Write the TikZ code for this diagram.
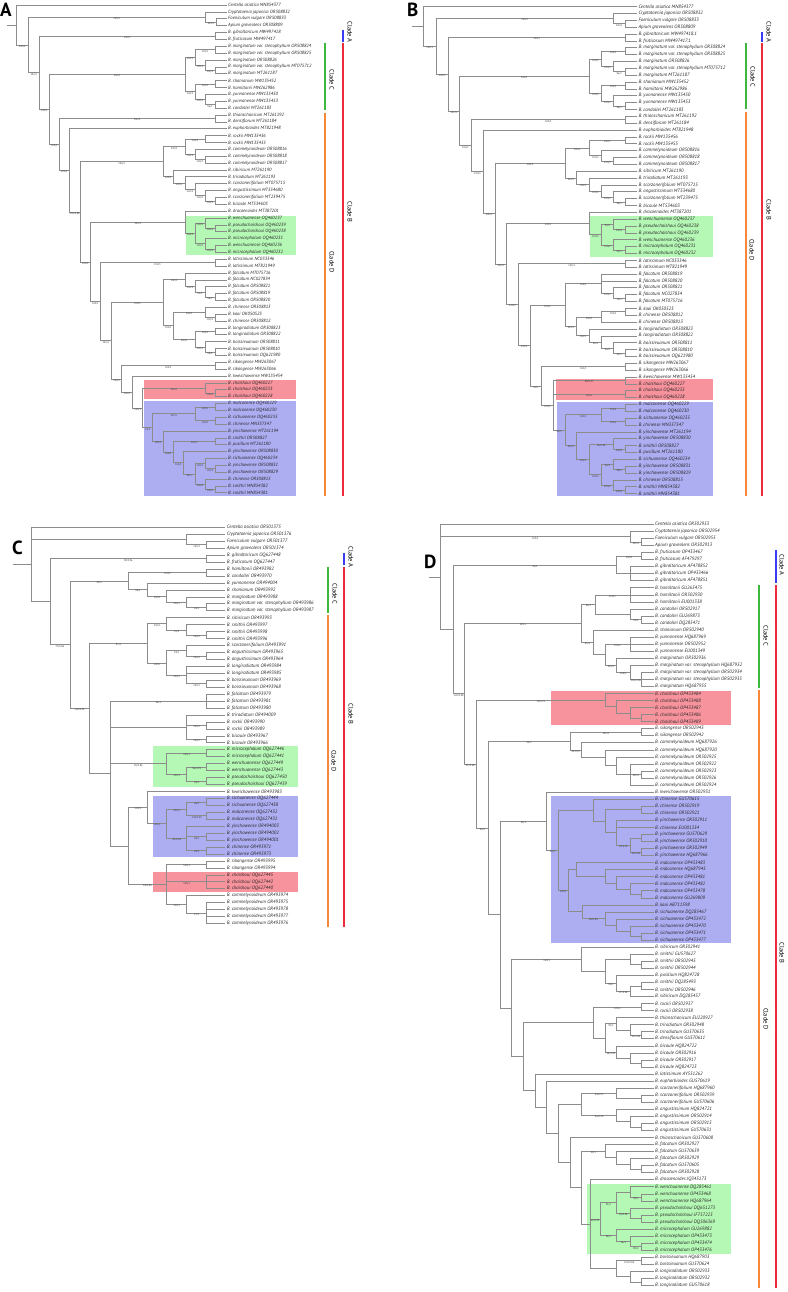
\documentclass[tikz,border=0pt]{standalone}
\usepackage{fontspec}
\setmainfont{PT Sans}
\usetikzlibrary{calc}

\definecolor{boxgreen}{HTML}{B5F7B5}
\definecolor{boxred}{HTML}{F7939D}
\definecolor{boxblue}{HTML}{ADADF2}
\definecolor{cladeblue}{HTML}{3B3BF5}
\definecolor{cladegreen}{HTML}{3DB83D}
\definecolor{cladeorange}{HTML}{F7883A}
\definecolor{cladered}{HTML}{EE2B3B}

\tikzset{
  br/.style={draw=black!45, line width=0.55pt},
  leaf/.style={anchor=west, inner xsep=1.5pt, inner ysep=0pt, text=black!85,
    font=\fontsize{4.8}{5}\selectfont\itshape},
  leafA/.style={leaf, font=\fontsize{4.6}{5}\selectfont\itshape},
  sup/.style={pos=0.75, below=0.1pt, inner sep=0.2pt, text=black!80,
    font=\fontsize{2.6}{3}\selectfont},
  bar/.style={line width=1.6pt},
  cladelab/.style={rotate=-90, inner sep=0pt, font=\fontsize{6.5}{7}\selectfont},
  panel/.style={anchor=north west, inner sep=0pt, font=\fontsize{19}{19}\selectfont\bfseries}
}

\newcommand\hf{100/1}
% leaf: name, x, y, text
\newcommand\tip[4]{%
  \node[#1] (#2) at (#3) {#4};}
% clade node: name, x, children (child/support); y is the middle of first and last child
\newcommand\nd[3]{%
  \foreach \cn/\lb [count=\kk] in {#3}{\ifnum\kk=1 \xdef\ndfirst{\cn}\fi\xdef\ndlast{\cn}}%
  \pgfmathsetmacro\ndy{0.5*(\csname ny@\ndfirst\endcsname+\csname ny@\ndlast\endcsname)}%
  \expandafter\xdef\csname ny@#1\endcsname{\ndy}%
  \coordinate (#1) at (#2,\ndy);%
  \foreach \cn/\lb in {#3}{\draw[br] (#1) |- node[sup]{\lb} (\cn);}%
}
% row of leaves: prefix, style, x, first y, step, list
\newcommand\tips[6]{%
  \foreach \t [count=\i] in {#6}{%
    \pgfmathsetmacro\yy{#4+(\i-1)*#5}%
    \node[#2] (#1\i) at (#3,\yy) {\t};%
    \expandafter\xdef\csname ny@#1\i\endcsname{\yy}}}

\begin{document}
\begin{tikzpicture}[x=1pt,y=-1pt]
\useasboundingbox (0,0) rectangle (787,1292);

% highlighted groups
\fill[boxgreen] (186,216) rectangle (296,255);
\fill[boxred] (144,380) rectangle (296,399.3);
\fill[boxblue] (144,400.7) rectangle (296,496);
\fill[boxgreen] (590,216) rectangle (713,257);
\fill[boxred] (556,379) rectangle (713,400);
\fill[boxblue] (557,401.7) rectangle (713,496);
\fill[boxgreen] (153,746) rectangle (298,787);
\fill[boxblue] (153,795.5) rectangle (298,857);
\fill[boxred] (153,872) rectangle (298,892);
\fill[boxred] (551,690.7) rectangle (731,725.3);
\fill[boxblue] (551,795.7) rectangle (731,943.3);
\fill[boxgreen] (587,1184) rectangle (731,1254);

\node[panel] (pA) at (0,3) {A};
\node[panel] (pB) at (407,3) {B};
\node[panel] (pC) at (12,541) {C};
\node[panel] (pD) at (424,555) {D};

% ---------- A ----------
\tips{a}{leafA}{226.5}{5}{6.87}{Centella asiatica MN854377,Cryptotaenia japonica OR508832,
  Foeniculum vulgare OR508833,Apium graveolens OR508809,B. gibraltaricum MW497418,
  B. fruticosum MW497417,B. marginatum var. stenophyllum OR508824,
  B. marginatum var. stenophyllum OR508825,B. marginatum OR508826,
  B. marginatum var. stenophyllum MT075712,B. marginatum MT261187,B. shanianum MW135452,
  B. hamiltonii MW262986,B. yunnanense MW135450,B. yunnanense MW135453,
  B. candollei MT261183,B. thianschanicum MT261192,B. densiflorum MT261184,
  B. euphorbioides MT821948,B. rockii MW135456,B. rockii MW135455,
  B. commelynoideum OR508816,B. commelynoideum OR508818,B. commelynoideum OR508817,
  B. sibiricum MT261190,B. triradiatum MT261193,B. scorzonerifolium MT075715,
  B. angustissimum MT534680,B. scorzonerifolium MT239475,B. bicaule MT534603,
  B. dracaenoides MT387201,B. wenchuanense OQ460237,B. pseudochaishoui OQ460239,
  B. pseudochaishoui OQ460238,B. microcephalum OQ460231,B. wenchuanense OQ460236,
  B. microcephalum OQ460232,B. latissimum NC033346,B. latissimum MT821949,
  B. falcatum MT075716,B. falcatum NC027834,B. falcatum OR508821,B. falcatum OR508819,
  B. falcatum OR508820,B. chinense OR508813,B. kaoi OK050523,B. chinense OR508812,
  B. longiradiatum OR508823,B. longiradiatum OR508822,B. boissieuanum OR508811,
  B. boissieuanum OR508810,B. boissieuanum OQ621980,B. sikangense MW263067,
  B. sikangense MW263066,B. kweichowense MW135454,B. chaishoui OQ460227,
  B. chaishoui OQ460233,B. chaishoui OQ460228,B. malconense OQ460229,
  B. malconense OQ460230,B. sichuanense OQ460235,B. chinense MN337347,
  B. yinchowense MT261194,B. smithii OR508827,B. pusillum MT261180,
  B. yinchowense OR508830,B. sichuanense OQ460234,B. yinchowense OR508831,
  B. yinchowense OR508829,B. chinense OR508815,B. smithii MN854382,B. smithii MN854381}

\nd{aFA}{216.7}{a3/,a4/}
\nd{aCr}{205}{a2/,aFA/\hf}
\nd{aGF}{215}{a5/,a6/}
\nd{aM1}{215}{a7/,a8/}
\nd{aM3}{215}{a10/,a11/}
\nd{aM2}{205}{a9/,aM3/\hf}
\nd{aMg}{195}{aM1/\hf,aM2/\hf}
\nd{aSH}{215}{a12/,a13/}
\nd{aY2}{215}{a15/,a16/}
\nd{aYu}{205}{a14/,aY2/{96/1}}
\nd{aSY}{195}{aSH/\hf,aYu/\hf}
\nd{aCC}{185}{aMg/\hf,aSY/\hf}
\nd{aTD}{215}{a17/,a18/}
\nd{aRk}{205}{a20/,a21/}
\nd{aCm2}{205}{a23/,a24/}
\nd{aCm}{195}{a22/,aCm2/\hf}
\nd{aRC}{185}{aRk/\hf,aCm/\hf}
\nd{aSb4}{215}{a29/,a30/}
\nd{aSb3}{205}{a28/,aSb4/\hf}
\nd{aSb2}{195}{a27/,aSb3/\hf}
\nd{aTr}{185}{a26/,aSb2/\hf}
\nd{aSb}{173.3}{a25/,aTr/\hf}
\nd{aR}{163.3}{aRC/\hf,aSb/\hf}
\nd{aG1b}{215}{a33/,a34/}
\nd{aG1}{205}{a32/,aG1b/\hf}
\nd{aG2b}{215}{a36/,a37/}
\nd{aG2}{205}{a35/,aG2b/\hf}
\nd{aG}{195}{aG1/\hf,aG2/\hf}
\nd{aDG}{185}{a31/,aG/\hf}
\nd{aLa}{215}{a38/,a39/}
\nd{aF4}{215}{a43/,a44/}
\nd{aF3}{205}{a42/,aF4/{96/1}}
\nd{aF2}{195}{a41/,aF3/{92/1}}
\nd{aF}{185}{a40/,aF2/\hf}
\nd{aCh2}{215}{a46/,a47/}
\nd{aCh}{205}{a45/,aCh2/\hf}
\nd{aLo}{215}{a48/,a49/}
\nd{aBo2}{215}{a51/,a52/}
\nd{aBo}{205}{a50/,aBo2/{96/1}}
\nd{aLgB}{195}{aLo/\hf,aBo/\hf}
\nd{aCL}{173.3}{aCh/\hf,aLgB/\hf}
\nd{aW}{163.3}{aF/\hf,aCL/\hf}
\nd{aSk}{215}{a53/,a54/}
\nd{aCs2}{215}{a57/,a58/}
\nd{aCs}{205}{a56/,aCs2/\hf}
\nd{aB1}{215}{a59/,a60/}
\nd{aB2}{215}{a61/,a62/}
\nd{aB12}{195}{aB1/\hf,aB2/\hf}
\nd{aP1}{215}{a68/,a69/}
\nd{aP2}{205}{a67/,aP1/\hf}
\nd{aP3}{215}{a71/,a72/}
\nd{aP4}{205}{a70/,aP3/\hf}
\nd{aP5}{195}{aP2/\hf,aP4/\hf}
\nd{aP6}{183.3}{a66/,aP5/{99/1}}
\nd{aSP}{215}{a64/,a65/}
\nd{aP7}{173.3}{aSP/\hf,aP6/\hf}
\nd{aP8}{163.3}{a63/,aP7/\hf}
\nd{aBl}{152.7}{aB12/\hf,aP8/\hf}
\nd{aZ}{142.7}{aCs/\hf,aBl/{91/1}}
\nd{aYk}{132.7}{a55/,aZ/\hf}
\nd{aX}{121.7}{aSk/\hf,aYk/\hf}
\nd{aV}{111.7}{aW/\hf,aX/\hf}
\nd{aU}{100}{aLa/\hf,aV/\hf}
\nd{aT}{90.7}{aDG/\hf,aU/\hf}
\nd{aQ}{80}{aR/\hf,aT/\hf}
\nd{aP}{69.3}{a19/,aQ/{100/0.86}}
\nd{aN4}{59.3}{aTD/\hf,aP/\hf}
\nd{aN3}{49.3}{aCC/\hf,aN4/\hf}
\nd{aN2}{39.3}{aGF/\hf,aN3/\hf}
\nd{aN1}{28.3}{aCr/\hf,aN2/\hf}
\nd{aRt}{16}{a1/,aN1/\hf}
\coordinate (aStub) at ($(aRt)+(-9,0)$);
\draw[br] (aStub) -- (aRt);

\draw[bar,cladeblue] (343,30) -- (343,42);
\draw[bar,cladegreen] (325,43) -- (325,110.5);
\draw[bar,cladeorange] (325,113) -- (325,496);
\draw[bar,cladered] (343,43) -- (343,496);
\node[cladelab] (aLabA) at (350,32) {Clade A};
\node[cladelab] (aLabC) at (332,80) {Clade C};
\node[cladelab] (aLabD) at (332,262) {Clade D};
\node[cladelab] (aLabB) at (350,212) {Clade B};

% ---------- B ----------
\tips{b}{leaf}{636.8}{6.5}{6.86}{Centella asiatica MN854377,Cryptotaenia japonica OR508832,
  Foeniculum vulgare OR508833,Apium graveolens OR508809,B. gibraltaricum MW497418.1,
  B. fruticosum MW497417.1,B. marginatum var. stenophyllum OR508824,
  B. marginatum var. stenophyllum OR508825,B. marginatum OR508826,
  B. marginatum var. stenophyllum MT075712,B. marginatum MT261187,B. shanianum MW135452,
  B. hamiltonii MW262986,B. yunnanense MW135450,B. yunnanense MW135453,
  B. candollei MT261183,B. thianschanicum MT261192,B. densiflorum MT261184,
  B. euphorbioides MT821948,B. rockii MW135456,B. rockii MW135455,
  B. commelynoideum OR508816,B. commelynoideum OR508818,B. commelynoideum OR508817,
  B. sibiricum MT261190,B. triradiatum MT261193,B. scorzonerifolium MT075715,
  B. angustissimum MT534680,B. scorzonerifolium MT239475,B. bicaule MT534603,
  B. dracaenoides MT387201,B. wenchuanense OQ460237,B. pseudochaishoui OQ460238,
  B. pseudochaishoui OQ460239,B. wenchuanense OQ460236,B. microcephalum OQ460231,
  B. microcephalum OQ460232,B. latissimum NC033346,B. latissimum MT821949,
  B. falcatum OR508819,B. falcatum OR508820,B. falcatum OR508821,B. falcatum NC027834,
  B. falcatum MT075716,B. kaoi OK050523,B. chinense OR508812,B. chinense OR508813,
  B. longiradiatum OR508823,B. longiradiatum OR508822,B. boissieuanum OR508811,
  B. boissieuanum OR508810,B. boissieuanum OQ621980,B. sikangense MW263067,
  B. sikangense MW263066,B. kweichowense MW135454,B. chaishoui OQ460227,
  B. chaishoui OQ460233,B. chaishoui OQ460228,B. malconense OQ460229,
  B. malconense OQ460230,B. sichuanense OQ460235,B. chinense MN337347,
  B. yinchowense MT261194,B. yinchowense OR508830,B. smithii OR508827,
  B. pusillum MT261180,B. sichuanense OQ460234,B. yinchowense OR508831,
  B. yinchowense OR508829,B. chinense OR508815,B. smithii MN854382,B. smithii MN854381}

\nd{bFA}{625}{b3/,b4/}
\nd{bCr}{613.3}{b2/,bFA/\hf}
\nd{bGF}{625}{b5/,b6/}
\nd{bM1}{625}{b7/,b8/}
\nd{bM3}{625}{b10/,b11/}
\nd{bM2}{613.3}{b9/,bM3/{96/1}}
\nd{bMg}{601.7}{bM1/\hf,bM2/\hf}
\nd{bSH}{625}{b12/,b13/}
\nd{bY2}{625}{b15/,b16/}
\nd{bYu}{613.3}{b14/,bY2/{96/1}}
\nd{bSY}{601.7}{bSH/\hf,bYu/\hf}
\nd{bCC}{589.3}{bMg/\hf,bSY/\hf}
\nd{bTD}{625}{b17/,b18/}
\nd{bRk}{625}{b20/,b21/}
\nd{bCm2}{613.3}{b23/,b24/}
\nd{bCm}{601.7}{b22/,bCm2/\hf}
\nd{bRC}{589.3}{bRk/\hf,bCm/\hf}
\nd{bSb4}{625}{b29/,b30/}
\nd{bSb3}{613.3}{b28/,bSb4/{96/1}}
\nd{bSb2}{601.7}{b27/,bSb3/\hf}
\nd{bTr}{589.3}{b26/,bSb2/\hf}
\nd{bSb}{576.7}{b25/,bTr/\hf}
\nd{bR}{565}{bRC/\hf,bSb/\hf}
\nd{bG1b}{625}{b33/,b34/}
\nd{bG1}{613.3}{b32/,bG1b/\hf}
\nd{bG2b}{625}{b36/,b37/}
\nd{bG2}{613.3}{b35/,bG2b/{92/1}}
\nd{bG}{601.7}{bG1/{99/1},bG2/\hf}
\nd{bDG}{589.3}{b31/,bG/\hf}
\nd{bLa}{625}{b38/,b39/}
\nd{bF3}{625}{b43/,b44/}
\nd{bF2}{613.3}{b42/,bF3/{74/1}}
\nd{bF}{601.7}{b40/,b41/,bF2/\hf}
\nd{bCh2}{625}{b45/,b46/}
\nd{bCh}{601.7}{bCh2/\hf,b47/}
\nd{bBo2}{625}{b51/,b52/}
\nd{bBo}{613.3}{b50/,bBo2/{92/1}}
\nd{bLo2}{601.7}{b49/,bBo/{96/1}}
\nd{bLgB}{589.3}{b48/,bLo2/{96/1}}
\nd{bCL}{576.7}{bCh/\hf,bLgB/\hf}
\nd{bW}{565}{bF/\hf,bCL/\hf}
\nd{bSk}{625}{b53/,b54/}
\nd{bK}{625}{b55/,b56/}
\nd{bC2}{625}{b57/,b58/}
\nd{bBl1}{625}{b59/,b60/}
\nd{bBl2}{625}{b61/,b62/}
\nd{bBl12}{601.7}{bBl1/\hf,bBl2/\hf}
\nd{bSP}{625}{b65/,b66/}
\nd{bYs}{613.3}{b64/,bSP/\hf}
\nd{bQ1}{625}{b68/,b69/}
\nd{bQ2}{613.3}{b67/,bQ1/{98/1}}
\nd{bQ3}{625}{b71/,b72/}
\nd{bQ4}{613.3}{b70/,bQ3/\hf}
\nd{bQ5}{601.7}{bQ2/{98/1},bQ4/\hf}
\nd{bQ6}{589.3}{bYs/{96/0.98},bQ5/\hf}
\nd{bQ7}{576.7}{b63/,bQ6/\hf}
\nd{bBl}{565}{bBl12/\hf,bQ7/\hf}
\nd{bN11}{553.3}{bK/{89/0.97},bC2/\hf,bBl/{99/1}}
\nd{bN10}{541.7}{bSk/\hf,bN11/\hf}
\nd{bN9}{530}{bW/\hf,bN10/{99/1}}
\nd{bN8}{518.3}{bLa/\hf,bN9/\hf}
\nd{bN7}{506.7}{bDG/\hf,bN8/\hf}
\nd{bN6}{495}{bR/\hf,bN7/\hf}
\nd{bN5}{483.3}{b19/,bN6/\hf}
\nd{bN4}{471.7}{bTD/\hf,bN5/\hf}
\nd{bN3}{459.3}{bCC/\hf,bN4/\hf}
\nd{bN2}{448.3}{bGF/\hf,bN3/\hf}
\nd{bN1}{436}{bCr/\hf,bN2/\hf}
\nd{bRt}{423.3}{b1/,bN1/\hf}
\coordinate (bStub) at ($(bRt)+(-11,0)$);
\draw[br] (bStub) -- (bRt);

\draw[bar,cladeblue] (762,32) -- (762,42);
\draw[bar,cladegreen] (746,43) -- (746,109);
\draw[bar,cladeorange] (746,112) -- (746,496);
\draw[bar,cladered] (762,43) -- (762,496);
\node[cladelab] (bLabA) at (769,32) {Clade A};
\node[cladelab] (bLabC) at (753,77) {Clade C};
\node[cladelab] (bLabD) at (752,250) {Clade D};
\node[cladelab] (bLabB) at (769,210) {Clade B};

% ---------- C ----------
\tips{c}{leaf}{225.2}{527.3}{6.95}{Centella asiatica OR501375,Cryptotaenia japonica OR501376,
  Foeniculum vulgare OR501377,Apium graveolens OR501374,B. gibraltaricum OQ627448,
  B. fruticosum OQ627447,B. hamiltonii OR493982,B. candollei OR493970,
  B. yunnanense OR494004,B. shanianum OR493992,B. marginatum OR493988,
  B. marginatum var. stenophyllum OR493986,B. marginatum var. stenophyllum OR493987,
  B. sibiricum OR493993,B. smithii OR493997,B. smithii OR493998,B. smithii OR493996,
  B. scorzonerifolium OR493991,B. angustissimum OR493965,B. angustissimum OR493964,
  B. longiradiatum OR493984,B. longiradiatum OR493985,B. boissieuanum OR493969,
  B. boissieuanum OR493968,B. falcatum OR493979,B. falcatum OR493981,
  B. falcatum OR493980,B. triradiatum OR494009,B. rockii OR493990,B. rockii OR493989,
  B. bicaule OR493967,B. bicaule OR493966,B. microcephalum OQ627446,
  B. microcephalum OQ627441,B. wenchuanense OQ627449,B. wenchuanense OQ627443,
  B. pseudochaishoui OQ627450,B. pseudochaishoui OQ627439,B. kweichowense OR493983,
  B. sichuanense OQ627444,B. sichuanense OQ627438,B. malconense OQ627432,
  B. malconense OQ627431,B. yinchowense OR494003,B. yinchowense OR494002,
  B. yinchowense OR494001,B. chinense OR493971,B. chinense OR493973,
  B. sikangense OR493995,B. sikangense OR493994,B. chaishoui OQ627445,
  B. chaishoui OQ627442,B. chaishoui OQ627440,B. commelynoideum OR493974,
  B. commelynoideum OR493975,B. commelynoideum OR493978,B. commelynoideum OR493977,
  B. commelynoideum OR493976}

\nd{cFA}{206.7}{c3/,c4/}
\nd{cCr}{186.7}{c2/,cFA/\hf}
\nd{cGF}{206.7}{c5/,c6/}
\nd{cHC}{206.7}{c7/,c8/}
\nd{cMv}{206.7}{c12/,c13/}
\nd{cM}{186.7}{c11/,cMv/{96/1}}
\nd{cSh}{166.7}{c10/,cM/\hf}
\nd{cYS}{147.7}{c9/,cSh/\hf}
\nd{cCC}{128.3}{cHC/\hf,cYS/{96/1}}
\nd{cSm2}{206.7}{c16/,c17/}
\nd{cSm}{186.7}{c15/,cSm2/\hf}
\nd{cS1}{166.7}{c14/,cSm/{95/1}}
\nd{cAn}{206.7}{c19/,c20/}
\nd{cSA}{186.7}{c18/,cAn/\hf}
\nd{cBo}{206.7}{c23/,c24/}
\nd{cLgB}{186.7}{c21/,c22/,cBo/\hf}
\nd{cS2}{166.7}{cSA/{93/1},cLgB/\hf}
\nd{cN5}{147.7}{cS1/\hf,cS2/\hf}
\nd{cFa}{206.7}{c25/,c26/,c27/}
\nd{cRk}{206.7}{c29/,c30/}
\nd{cBc}{206.7}{c31/,c32/}
\nd{cTRB}{186.7}{c28/,cRk/\hf,cBc/\hf}
\nd{cMi}{206.7}{c33/,c34/}
\nd{cWe}{206.7}{c35/,c36/}
\nd{cPs}{206.7}{c37/,c38/}
\nd{cWP}{186.7}{cWe/{96/0.99},cPs/{96/1}}
\nd{cG}{166.7}{cMi/\hf,cWP/\hf}
\nd{cSc}{206.7}{c40/,c41/}
\nd{cMa}{206.7}{c42/,c43/}
\nd{cSM}{186.7}{cSc/{96/1},cMa/{100/0.99}}
\nd{cYp}{206.7}{c45/,c46/}
\nd{cCp}{206.7}{c47/,c48/}
\nd{cYC}{186.7}{c44/,cYp/{98/1},cCp/{99/1}}
\nd{cBl}{166.7}{cSM/\hf,cYC/{94/0.98}}
\nd{cKB}{147.7}{c39/,cBl/\hf}
\nd{cSk}{206.7}{c49/,c50/}
\nd{cCh}{206.7}{c51/,c52/,c53/}
\nd{cCo2}{206.7}{c55/,c56/,c57/,c58/}
\nd{cCo}{186.7}{c54/,cCo2/{97/1}}
\nd{cSCC}{166.7}{cSk/\hf,cCh/\hf,cCo/\hf}
\nd{cN7}{128.3}{cKB/\hf,cSCC/{94/0.96}}
\nd{cN6}{110}{cFa/{96/1},cTRB/,cG/{93/0.86},cN7/}
\nd{cN4}{89.3}{cN5/{91/1},cN6/}
\nd{cN3}{70}{cCC/{99/1},cN4/{100/0.99}}
\nd{cN2}{50}{cGF/{98/0.96},cN3/{79/0.86}}
\nd{cRt}{31.7}{c1/,cCr/,cN2/}
\coordinate (cStub) at ($(cRt)+(-19,0)$);
\draw[br] (cStub) -- (cRt);

\draw[bar,cladeblue] (344,553) -- (344,565);
\draw[bar,cladegreen] (328,567) -- (328,613);
\draw[bar,cladeorange] (328,615) -- (328,927);
\draw[bar,cladered] (344,567) -- (344,927);
\node[cladelab] (cLabA) at (351,557) {Clade A};
\node[cladelab] (cLabC) at (335,594) {Clade C};
\node[cladelab] (cLabD) at (334,761) {Clade D};
\node[cladelab] (cLabB) at (351,714) {Clade B};

% ---------- D ----------
\tips{d}{leaf}{653.5}{524.3}{7.047}{Centella asiatica OR502953,Cryptotaenia japonica OR502954,
  Foeniculum vulgare OR502955,Apium graveolens OR502913,B. fruticosum OP433467,
  B. fruticosum AF479297,B. gibraltaricum AF478852,B. gibraltaricum OP433466,
  B. gibraltaricum AF478851,B. hamiltonii GU265475,B. hamiltonii OR502930,
  B. hamiltonii EU001338,B. candollei OR502917,B. candollei GU269873,
  B. candollei DQ285471,B. shanianum OR502940,B. yunnanense HQ687969,
  B. yunnanense OR502952,B. yunnanense EU001349,B. marginatum OR502936,
  B. marginatum var. stenophyllum HQ687952,B. marginatum var. stenophyllum OR502934,
  B. marginatum var. stenophyllum OR502935,B. marginatum HQ687955,
  B. chaishoui OP433484,B. chaishoui OP433488,B. chaishoui OP433487,
  B. chaishoui OP433486,B. chaishoui OP433489,B. sikangense OR502943,
  B. sikangense OR502942,B. commelynoideum HQ687926,B. commelynoideum HQ687920,
  B. commelynoideum OR502925,B. commelynoideum OR502922,B. commelynoideum OR502923,
  B. commelynoideum OR502926,B. commelynoideum OR502924,B. kweichowense OR502931,
  B. chinense GU570615,B. chinense OR502919,B. chinense OR502921,
  B. yinchowense OR502911,B. chinense EU001334,B. yinchowense GU570629,
  B. yinchowense OR502910,B. yinchowense OR502949,B. yinchowense HQ687966,
  B. malconense OP433483,B. malconense HQ687945,B. malconense OP433481,
  B. malconense OP433482,B. malconense OP433478,B. malconense GU269809,
  B. kaoi AB711598,B. sichuanense DQ285467,B. sichuanense OP433472,
  B. sichuanense OP433470,B. sichuanense OP433471,B. sichuanense OP433477,
  B. sibiricum OR502941,B. smithii GU570627,B. smithii OR502945,B. smithii OR502944,
  B. pusillum HQ824728,B. smithii DQ285493,B. smithii OR502946,B. sibiricum DQ285457,
  B. rockii OR502937,B. rockii OR502938,B. thianschanicum EU220927,
  B. triradiatum OR502948,B. triradiatum GU570635,B. densiflorum GU570611,
  B. bicaule HQ824722,B. bicaule OR502916,B. bicaule OR502917,B. bicaule HQ824723,
  B. latissimum AY551262,B. euphorbioides GU570619,B. scorzonerifolium HQ687960,
  B. scorzonerifolium OR502939,B. scorzonerifolium GU570606,
  B. angustissimum HQ824721,B. angustissimum OR502914,B. angustissimum OR502915,
  B. angustissimum GU570631,B. thianschanicum GU570608,B. falcatum OR502927,
  B. falcatum GU570639,B. falcatum OR502929,B. falcatum GU570605,B. falcatum OR502928,
  B. dracaenoides JQ345173,B. wenchuanense DQ285461,B. wenchuanense OP433468,
  B. wenchuanense HQ687964,B. pseudochaishoui DQ651273,B. pseudochaishoui JF757223,
  B. pseudochaishoui DQ506369,B. microcephalum GU269882,B. microcephalum OP433473,
  B. microcephalum OP433474,B. microcephalum OP433476,B. boissieuanum HQ687903,
  B. boissieuanum GU570624,B. longiradiatum OR502933,B. longiradiatum OR502932,
  B. longiradiatum GU570618}

\nd{dFA}{641.7}{d3/,d4/}
\nd{dCr}{630}{d2/,dFA/\hf}
\nd{dFr}{641.7}{d5/,d6/}
\nd{dGb}{630}{d7/,d8/,d9/}
\nd{dFG}{616.7}{dFr/\hf,dGb/}
\nd{dHa}{630}{d10/,d11/,d12/}
\nd{dCa2}{641.7}{d14/,d15/}
\nd{dCa}{630}{d13/,dCa2/{93/1}}
\nd{dHC}{595}{dHa/\hf,dCa/}
\nd{dYu}{630}{d17/,d18/,d19/}
\nd{dMi}{641.7}{d22/,d23/,d24/}
\nd{dMh}{630}{d21/,dMi/{100/0.98}}
\nd{dMg}{616.7}{d20/,dMh/\hf}
\nd{dYM}{605}{dYu/\hf,dMg/\hf}
\nd{dSY}{593.3}{d16/,dYM/}
\nd{dCC}{581.7}{dHC/{96/1},dSY/{85/1}}
\nd{dCh4}{641.7}{d28/,d29/}
\nd{dCh3}{630}{d27/,dCh4/}
\nd{dCh2}{616.7}{d26/,dCh3/}
\nd{dCh}{605}{d25/,dCh2/}
\nd{dSk}{641.7}{d30/,d31/}
\nd{dCo5}{641.7}{d36/,d37/}
\nd{dCo4}{630}{d35/,dCo5/\hf,d38/}
\nd{dCo3}{616.7}{d34/,dCo4/}
\nd{dCo2}{605}{d33/,dCo3/}
\nd{dCo}{581.7}{d32/,dCo2/}
\nd{dSC}{570}{dSk/\hf,dCo/{95/0.97}}
\nd{dC1}{641.7}{d41/,d42/}
\nd{dY1}{641.7}{d47/,d48/}
\nd{dY2}{641.7}{d45/,d46/}
\nd{dY3}{630}{dY2/,dY1/{99/0.98}}
\nd{dY4}{616.7}{d43/,d44/,dY3/{99/0.99}}
\nd{dCY2}{605}{dC1/,dY4/}
\nd{dCY}{593.3}{d40/,dCY2/}
\nd{dM1}{641.7}{d53/,d54/}
\nd{dM2}{630}{d52/,dM1/}
\nd{dM3}{616.7}{d51/,dM2/}
\nd{dM4}{605}{d50/,dM3/}
\nd{dMa}{576}{d49/,dM4/}
\nd{dS1}{641.7}{d59/,d60/}
\nd{dS2}{630}{d58/,dS1/}
\nd{dS3}{616.7}{d57/,dS2/}
\nd{dS4}{605}{d56/,dS3/}
\nd{dKS}{582}{d55/,dS4/{84/0.98}}
\nd{dMS}{568}{dMa/,dKS/}
\nd{dBl}{558.3}{dCY/,dMS/\hf}
\nd{dKB}{546.7}{d39/,dBl/{98/1}}
\nd{dSm1}{641.7}{d63/,d64/}
\nd{dSm2}{630}{d62/,dSm1/}
\nd{dSm3}{641.7}{d66/,d67/}
\nd{dSm4}{630}{dSm3/,d68/}
\nd{dSm5}{616.7}{d65/,dSm4/{97/0.98}}
\nd{dSm6}{605}{dSm2/,dSm5/{98/1}}
\nd{dSS}{581.7}{d61/,dSm6/}
\nd{dRk}{641.7}{d69/,d70/}
\nd{dTT3}{641.7}{d73/,d74/}
\nd{dTT2}{630}{d72/,dTT3/{92/0.98}}
\nd{dTT}{616.7}{d71/,dTT2/}
\nd{dBi2}{641.7}{d77/,d78/}
\nd{dBi1}{630}{d76/,dBi2/}
\nd{dBi}{616.7}{d75/,dBi1/}
\nd{dTB}{605}{dTT/{99/1},dBi/{96/0.99}}
\nd{dRTB}{593.3}{dRk/\hf,dTB/}
\nd{dSc2}{641.7}{d82/,d83/}
\nd{dSc}{616.7}{d81/,dSc2/}
\nd{dAn3}{641.7}{d86/,d87/}
\nd{dAn2}{630}{d85/,dAn3/}
\nd{dAn}{616.7}{d84/,dAn2/}
\nd{dSA}{581.7}{dSc/{94/0.97},dAn/{96/0.99}}
\nd{dFa3}{641.7}{d92/,d93/}
\nd{dFa2}{630}{d91/,dFa3/}
\nd{dFa1}{616.7}{d90/,dFa2/}
\nd{dFa}{605}{d89/,dFa1/}
\nd{dWe2}{641.7}{d96/,d97/}
\nd{dWe}{630}{d95/,dWe2/{96/1}}
\nd{dPs2}{641.7}{d99/,d100/}
\nd{dPs}{630}{d98/,dPs2/}
\nd{dWP}{616.7}{dWe/,dPs/{99/0.98}}
\nd{dMc3}{641.7}{d103/,d104/}
\nd{dMc2}{630}{d102/,dMc3/{89/1}}
\nd{dMc}{616.7}{d101/,dMc2/{96/1}}
\nd{dGr}{600}{dWP/{93/1},dMc/{98/1}}
\nd{dBo}{641.7}{d105/,d106/}
\nd{dLo2}{641.7}{d108/,d109/}
\nd{dLo}{630}{d107/,dLo2/}
\nd{dBL}{616.7}{dBo/{100/0.84},dLo/}
\nd{dDGB}{590}{d94/,dGr/{95/0.99},dBL/}
\nd{dFD}{581.7}{dFa/{99/1},dDGB/}
\nd{dTF}{570}{d88/,dFD/}
\nd{dSAT}{558.3}{dSA/,dTF/}
\nd{dEu}{546.7}{d80/,dSAT/}
\nd{dLa}{535}{d79/,dEu/}
\nd{dN7}{523.3}{dRTB/,dLa/}
\nd{dN6}{511.7}{dSS/\hf,dN7/}
\nd{dN5}{500}{dKB/{96/1},dN6/}
\nd{dN4}{488.3}{dSC/{93/1},dN5/}
\nd{dN3}{476.7}{dCh/{74/0.79},dN4/{96/1}}
\nd{dN2}{464}{dCC/\hf,dN3/{87/0.98}}
\nd{dN1}{453.3}{dFG/{94/1},dN2/{100/0.98}}
\nd{dRt}{440.7}{d1/,dCr/\hf,dN1/}
\coordinate (dStub) at ($(dRt)+(-12,0)$);
\draw[br] (dStub) -- (dRt);

\draw[bar,cladeblue] (776,550) -- (776,583);
\draw[bar,cladegreen] (759,584.5) -- (759,688);
\draw[bar,cladeorange] (759,690) -- (759,1288);
\draw[bar,cladered] (776,585) -- (776,1288);
\node[cladelab] (dLabA) at (782,565) {Clade A};
\node[cladelab] (dLabC) at (766,636) {Clade C};
\node[cladelab] (dLabD) at (766,1019) {Clade D};
\node[cladelab] (dLabB) at (782,953) {Clade B};
\end{tikzpicture}
\end{document}
